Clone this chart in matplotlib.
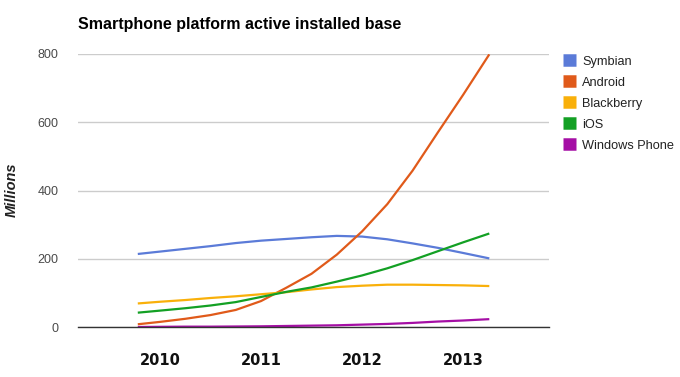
#!/usr/bin/env python3
import matplotlib
matplotlib.use("Agg")
import matplotlib.pyplot as plt

# quarterly readings (millions)
years = [2009.78, 2010.0, 2010.25, 2010.5, 2010.75, 2011.0, 2011.25, 2011.5,
         2011.75, 2012.0, 2012.25, 2012.5, 2012.75, 2013.0, 2013.26]
symbian    = [214, 221, 229, 237, 246, 253, 258, 263, 267, 265, 257, 245, 232, 217, 201]
android    = [8, 15, 24, 35, 50, 76, 115, 156, 212, 280, 360, 458, 570, 680, 799]
blackberry = [69, 74, 79, 85, 90, 96, 102, 110, 117, 121, 124, 124, 123, 122, 120]
ios        = [42, 48, 55, 63, 73, 88, 103, 116, 133, 151, 172, 196, 222, 248, 274]
windows    = [0, 0.5, 1, 1, 1.5, 2, 3, 4, 5, 7, 9, 12, 16, 19, 23]

SERIES = [
    ("Symbian", symbian, "#5b7bd8"),
    ("Android", android, "#e05a1a"),
    ("Blackberry", blackberry, "#f9b00a"),
    ("iOS", ios, "#13a024"),
    ("Windows Phone", windows, "#a50fa5"),
]
xticks = [2010, 2011, 2012, 2013]
yticks = [0, 200, 400, 600, 800]

plt.rcParams["font.family"] = ["Liberation Sans", "DejaVu Sans"]

W, H = 680, 377
fig = plt.figure(figsize=(W / 100, H / 100), dpi=100)
left, right, top, bottom = 78, 549, 54, 327
ax = fig.add_axes([left / W, 1 - bottom / H, (right - left) / W, (bottom - top) / H])

for name, vals, color in SERIES:
    ax.plot(years, vals, color=color, lw=1.6, label=name, solid_capstyle="butt")

ax.set_xlim(2009.188, 2013.851)
ax.set_ylim(0, 800)
ax.set_yticks(yticks)
ax.set_yticklabels([str(v) for v in yticks], fontsize=9, color="#4a4a4a")
ax.set_xticks(xticks)
ax.set_xticklabels([str(v) for v in xticks], fontsize=10.5, fontweight="bold",
                   color="#111111", family="DejaVu Sans")
ax.tick_params(axis="y", length=0, pad=14)
ax.tick_params(axis="x", length=0, pad=18.5)
ax.grid(axis="y", color="#cccccc", lw=1)
ax.set_axisbelow(True)
for s in ["top", "right", "left"]:
    ax.spines[s].set_visible(False)
ax.spines["bottom"].set_color("#333333")
ax.spines["bottom"].set_linewidth(1)
ax.spines["bottom"].set_zorder(3)

fig.text(left / W, 1 - 25 / H, "Smartphone platform active installed base",
         fontsize=11.5, fontweight="bold", color="#000000", va="center", ha="left")
fig.text(12 / W, 1 - 190 / H, "Millions", rotation=90, fontsize=10.5,
         fontweight="bold", fontstyle="italic", color="#222222", va="center", ha="center")

leg = ax.legend(loc="upper left", bbox_to_anchor=((558 - left) / (right - left), 1.015),
                frameon=False, fontsize=9.2, handlelength=1.0, handleheight=1.0,
                handletextpad=0.5, labelspacing=0.62, borderaxespad=0)
for h in leg.legend_handles:
    h.set_linewidth(9)
for t in leg.get_texts():
    t.set_color("#222222")

fig.savefig("out.png", dpi=100)
